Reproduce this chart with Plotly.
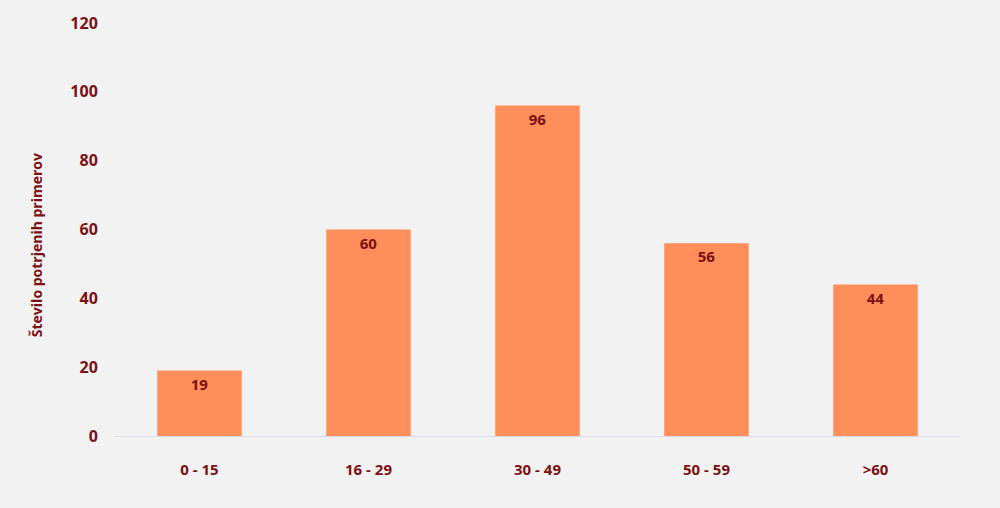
import plotly.graph_objects as go

categories = ["0 - 15", "16 - 29", "30 - 49", "50 - 59", ">60"]
values = [19, 60, 96, 56, 44]
y_ticks = [0, 20, 40, 60, 80, 100, 120]
y_title = "Število potrjenih primerov"

txt = "#7B1113"
font_family = "Open Sans"

fig = go.Figure(go.Bar(
    x=categories, y=values,
    marker=dict(color="#FF8F5A", line=dict(width=0)),
    width=0.5,
    text=values, textposition="inside", insidetextanchor="end",
    textfont=dict(family=font_family, size=15, color=txt, weight="bold"),
    constraintext="none",
))

fig.update_layout(
    width=1000, height=508,
    margin=dict(l=115, r=40, t=18, b=72),
    paper_bgcolor="#F2F2F2", plot_bgcolor="#F2F2F2",
    showlegend=False,
    font=dict(family=font_family, size=15, color=txt),
    xaxis=dict(showgrid=False, showline=True, linecolor="#D9D9E3", linewidth=1,
               tickfont=dict(family=font_family, size=15, color=txt, weight="bold"),
               ticks="outside", ticklen=20, tickcolor="rgba(0,0,0,0)"),
    yaxis=dict(range=[0, 120], tickvals=y_ticks, showgrid=False, zeroline=False,
               showline=False, ticks="outside", ticklen=13, tickcolor="rgba(0,0,0,0)",
               tickfont=dict(family=font_family, size=16, color=txt, weight="bold")),
    annotations=[dict(text=y_title, textangle=-90, showarrow=False,
                      xref="paper", yref="paper", x=-0.0935, y=0.462,
                      xanchor="center", yanchor="middle",
                      font=dict(family=font_family, size=14, color=txt, weight="bold"))],
)

fig.write_html("out.html", config={"displayModeBar": False},
               post_script="document.body.style.margin='0';document.body.style.background='#F2F2F2';")
